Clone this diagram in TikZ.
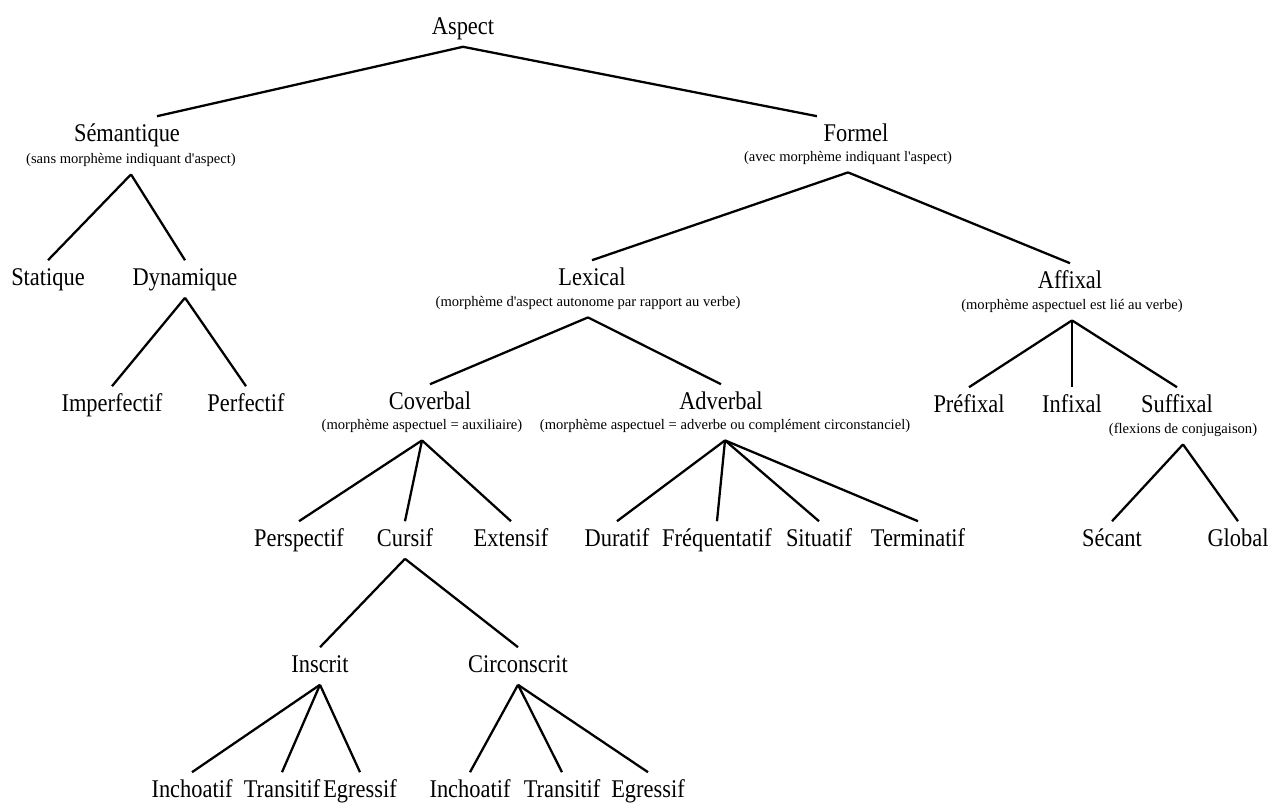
\documentclass[tikz,border=0pt]{standalone}
\usepackage{fontspec}
\setmainfont[FakeStretch=0.88]{Liberation Serif}
\newfontfamily\notefont{Liberation Serif}
\usetikzlibrary{calc}

\begin{document}
\begin{tikzpicture}[x=0.02cm, y=-0.02cm]
                \tikzset{term/.style = {inner xsep=1pt, inner ysep=4pt, text height=10pt, text depth=3pt, font=\fontsize{14.5}{16}\selectfont}}
                \tikzset{note/.style = {inner xsep=1pt, inner ysep=4pt, text height=6pt, text depth=2pt, font=\notefont\fontsize{8.3}{9}\selectfont}}
                \tikzset{edge/.style = {line width=1.3pt}}
                \useasboundingbox (0,0) rectangle (1272,804);

                \node[term] (aspect) at (463, 28) {Aspect};

                \node[term] (sem) at (127, 135) {Sémantique};
                \node[note] (semnote) at (131, 160) {(sans morphème indiquant d'aspect)};
                \node[term] (formel) at (856, 135) {Formel};
                \node[note] (formelnote) at (848, 158) {(avec morphème indiquant l'aspect)};

                \node[term] (statique) at (48, 279) {Statique};
                \node[term] (dynamique) at (185, 279) {Dynamique};
                \node[term] (imperf) at (112, 405) {Imperfectif};
                \node[term] (perf) at (246, 405) {Perfectif};

                \node[term] (lexical) at (592, 279) {Lexical};
                \node[note] (lexnote) at (588, 303) {(morphème d'aspect autonome par rapport au verbe)};
                \node[term] (affixal) at (1070, 282) {Affixal};
                \node[note] (affnote) at (1072, 306) {(morphème aspectuel est lié au verbe)};

                \node[term] (coverbal) at (430, 403) {Coverbal};
                \node[note] (covnote) at (422, 426) {(morphème aspectuel = auxiliaire)};
                \node[term] (adverbal) at (721, 403) {Adverbal};
                \node[note] (advnote) at (725, 426) {(morphème aspectuel = adverbe ou complément circonstanciel)};

                \node[term] (prefixal) at (969, 406) {Préfixal};
                \node[term] (infixal) at (1072, 406) {Infixal};
                \node[term] (suffixal) at (1177, 406) {Suffixal};
                \node[note] (sufnote) at (1183, 430) {(flexions de conjugaison)};

                \node[term] (perspectif) at (299, 540) {Perspectif};
                \node[term] (cursif) at (405, 540) {Cursif};
                \node[term] (extensif) at (511, 540) {Extensif};
                \node[term] (duratif) at (617, 540) {Duratif};
                \node[term] (frequent) at (717, 540) {Fréquentatif};
                \node[term] (situatif) at (819, 540) {Situatif};
                \node[term] (terminatif) at (918, 540) {Terminatif};
                \node[term] (secant) at (1112, 540) {Sécant};
                \node[term] (global) at (1238, 540) {Global};

                \node[term] (inscrit) at (320, 666) {Inscrit};
                \node[term] (circonscrit) at (518, 666) {Circonscrit};

                \node[term] (inch1) at (192, 791) {Inchoatif};
                \node[term] (trans1) at (282, 791) {Transitif};
                \node[term] (egr1) at (360, 791) {Egressif};
                \node[term] (inch2) at (470, 791) {Inchoatif};
                \node[term] (trans2) at (562, 791) {Transitif};
                \node[term] (egr2) at (648, 791) {Egressif};

                \draw[edge] (aspect.south) to ($(sem.north)+(30,0)$);
                \draw[edge] (aspect.south) to ($(formel.north)+(-39,0)$);

                \draw[edge] (semnote.south) to (statique.north);
                \draw[edge] (semnote.south) to (dynamique.north);
                \draw[edge] (dynamique.south) to (imperf.north);
                \draw[edge] (dynamique.south) to (perf.north);

                \draw[edge] (formelnote.south) to (lexical.north);
                \draw[edge] (formelnote.south) to (affixal.north);

                \draw[edge] (lexnote.south) to (coverbal.north);
                \draw[edge] (lexnote.south) to (adverbal.north);

                \draw[edge] (affnote.south) to (prefixal.north);
                \draw[edge] (affnote.south) to (infixal.north);
                \draw[edge] (affnote.south) to (suffixal.north);
                \draw[edge] (sufnote.south) to (secant.north);
                \draw[edge] (sufnote.south) to (global.north);

                \draw[edge] (covnote.south) to (perspectif.north);
                \draw[edge] (covnote.south) to (cursif.north);
                \draw[edge] (covnote.south) to (extensif.north);

                \draw[edge] (advnote.south) to (duratif.north);
                \draw[edge] (advnote.south) to (frequent.north);
                \draw[edge] (advnote.south) to (situatif.north);
                \draw[edge] (advnote.south) to (terminatif.north);

                \draw[edge] (cursif.south) to (inscrit.north);
                \draw[edge] (cursif.south) to (circonscrit.north);

                \draw[edge] (inscrit.south) to (inch1.north);
                \draw[edge] (inscrit.south) to (trans1.north);
                \draw[edge] (inscrit.south) to (egr1.north);
                \draw[edge] (circonscrit.south) to (inch2.north);
                \draw[edge] (circonscrit.south) to (trans2.north);
                \draw[edge] (circonscrit.south) to (egr2.north);
\end{tikzpicture}
\end{document}
